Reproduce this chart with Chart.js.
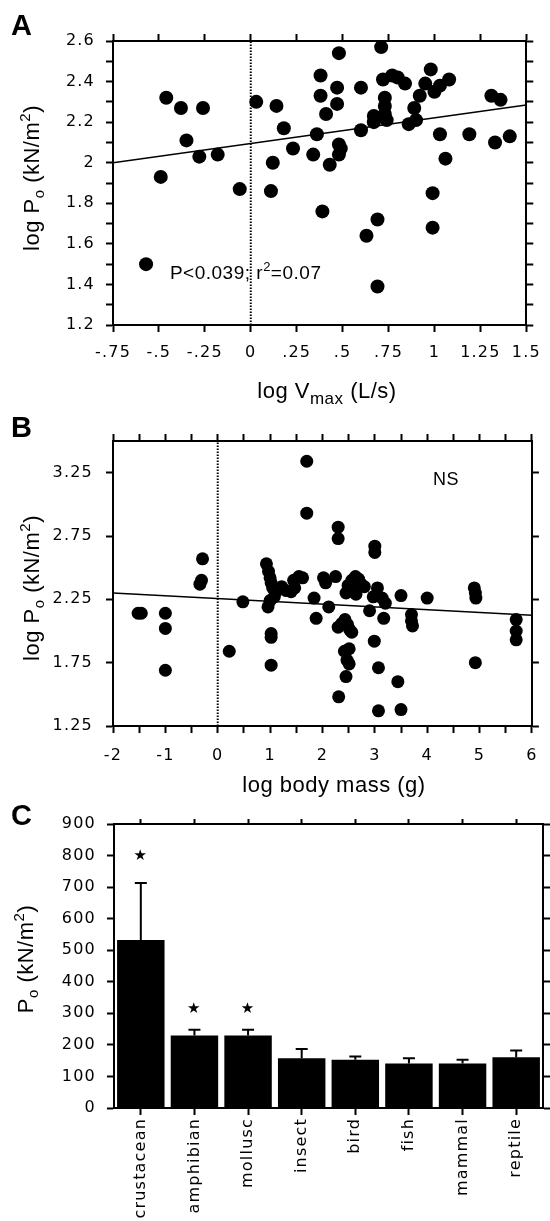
<!DOCTYPE html>
<html>
<head>
<meta charset="utf-8">
<title>log Po vs Vmax, body mass and taxon</title>
<script src="https://cdn.jsdelivr.net/npm/chart.js@4.4.1/dist/chart.umd.min.js"></script>
<style>
  body { margin: 0; background: #fff; }
  #page { position: relative; width: 550px; height: 1221px; overflow: hidden; }
  canvas { position: absolute; left: 0; }
</style>
</head>
<body>
<div id="page">
  <canvas id="chartA" width="550" height="420" style="top:0px"></canvas>
  <canvas id="chartB" width="550" height="420" style="top:400px"></canvas>
  <canvas id="chartC" width="550" height="431" style="top:790px"></canvas>
</div>
<script>
// ---- panel A : log Po against log Vmax
const aVmax = [-0.57,-0.49,-0.46,-0.38,-0.35,-0.28,-0.26,-0.18,-0.06,
  0.03,0.11,0.12,0.14,0.18,0.23,0.34,0.36,0.38,0.38,
  0.39,0.41,0.43,0.47,0.47,0.48,0.48,0.49,0.48,0.60,
  0.60,0.63,0.67,0.67,0.69,0.69,0.71,0.72,0.73,0.73,
  0.73,0.74,0.77,0.80,0.84,0.86,0.89,0.90,0.92,0.95,
  0.98,1.00,0.99,0.99,1.03,1.03,1.06,1.08,1.19,1.31,
  1.36,1.33,1.41];
const aLogPo = [1.50,1.93,2.32,2.27,2.11,2.03,2.27,2.04,1.87,
  2.30,1.86,2.00,2.28,2.17,2.07,2.04,2.14,2.43,2.33,
  1.76,2.24,1.99,2.37,2.29,2.54,2.09,2.07,2.04,2.37,
  2.16,1.64,2.23,2.20,1.72,1.39,2.57,2.41,2.32,2.28,
  2.24,2.21,2.43,2.42,2.39,2.19,2.27,2.21,2.33,2.39,
  2.46,2.35,1.85,1.68,2.38,2.14,2.02,2.41,2.14,2.33,
  2.31,2.10,2.13];
const aFitX = [-0.75, 1.5];
const aFitY = [2.00, 2.285];
const aXTicks = [-0.75,-0.5,-0.25,0,0.25,0.5,0.75,1,1.25,1.5];
const aXLabels = ['-.75','-.5','-.25','0','.25','.5','.75','1','1.25','1.5'];
const aYTicks = [1.2,1.3,1.4,1.5,1.6,1.7,1.8,1.9,2.0,2.1,2.2,2.3,2.4,2.5,2.6];
const aYLabels = ['1.2','','1.4','','1.6','','1.8','','2','','2.2','','2.4','','2.6'];

// ---- panel B : log Po against log body mass
const bMass = [-1.52,-1.46,-1.00,-1.00,-1.00,-0.34,-0.31,-0.29,0.22,0.48,
  0.93,0.97,1.00,1.02,1.05,1.10,0.96,1.00,1.08,1.15,
  1.22,1.30,1.40,1.45,1.55,1.62,1.47,1.02,1.02,1.02,
  1.70,1.70,1.84,1.88,2.02,2.06,2.12,2.25,2.30,2.30,
  2.30,2.37,2.43,2.48,2.52,2.56,2.42,2.51,2.47,2.51,
  2.45,2.31,2.45,2.49,2.56,2.63,2.69,2.74,2.58,2.80,
  2.64,2.90,2.97,3.00,3.00,3.05,3.14,3.20,3.17,2.99,
  3.07,3.07,3.44,3.50,3.50,3.70,3.70,3.72,4.00,4.90,
  4.92,4.93,4.92,5.70,5.70,5.70];
const bLogPo = [2.14,2.14,2.14,2.02,1.69,2.37,2.40,2.57,1.84,2.23,
  2.53,2.47,2.42,2.38,2.34,2.30,2.19,2.24,2.27,2.33,
  2.35,2.32,2.31,2.40,2.43,2.42,2.34,1.98,1.95,1.73,
  3.34,2.93,2.26,2.10,2.42,2.38,2.19,2.43,2.82,2.73,
  2.03,2.06,2.09,2.05,2.01,1.99,1.84,1.86,1.77,1.74,
  1.64,1.48,2.30,2.36,2.40,2.43,2.41,2.37,2.33,2.35,
  2.29,2.16,2.27,2.62,2.67,2.34,2.26,2.22,2.10,1.92,
  1.71,1.37,1.60,1.38,2.28,2.13,2.08,2.04,2.26,2.34,
  2.30,2.26,1.75,2.09,2.00,1.93];
const bFitX = [-2, 6];
const bFitY = [2.30, 2.125];
const bXTicks = [-2,-1.5,-1,-0.5,0,0.5,1,1.5,2,2.5,3,3.5,4,4.5,5,5.5,6];
const bXLabels = ['-2','','-1','','0','','1','','2','','3','','4','','5','','6'];
const bYTicks = [1.25,1.75,2.25,2.75,3.25];
const bYLabels = ['1.25','1.75','2.25','2.75','3.25'];

// ---- panel C : Po by taxon (mean + error)
const cTaxa = ['crustacean','amphibian','mollusc','insect','bird','fish','mammal','reptile'];
const cPo = [532, 230, 230, 158, 153, 141, 141, 161];
const cErr = [181, 18, 18, 29, 10, 17, 12, 21];
const cStarAt = [798, 313, 313, null, null, null, null, null];
const cYTicks = [0,100,200,300,400,500,600,700,800,900];
const cYLabels = ['0','100','200','300','400','500','600','700','800','900'];

const TICK_FONT = { family: 'DejaVu Sans', size: 16 };
const TITLE = '22px "Liberation Sans", Arial, sans-serif';
const SMALL = '15px "Liberation Sans", Arial, sans-serif';

function linAxis(position, min, max, vals, labels, size, pad) {
  return {
    type: 'linear', position: position, min: min, max: max,
    afterBuildTicks: function(s) { s.ticks = vals.map(function(v) { return { value: v }; }); },
    afterFit: function(s) { if (s.isHorizontal()) s.height = size; else s.width = size; },
    border: { display: true, color: '#000', width: 2 },
    grid: { drawOnChartArea: false, drawTicks: true, tickLength: 7, tickWidth: 2, tickColor: '#000', color: '#000' },
    ticks: labels ? { autoSkip: false, maxRotation: 0, padding: pad, color: '#000', font: TICK_FONT,
                      callback: function(v, i) { return labels[i]; } }
                  : { display: false }
  };
}

// text with sub/superscripts, centred (or left aligned) on x,y
function drawRich(ctx, parts, x, y, angle, align) {
  ctx.save();
  ctx.translate(x, y);
  ctx.rotate(angle || 0);
  ctx.fillStyle = '#000';
  ctx.textAlign = 'left';
  ctx.textBaseline = 'alphabetic';
  ctx.letterSpacing = '0.5px';
  let total = 0;
  parts.forEach(function(p) { ctx.font = p.f; p.w = ctx.measureText(p.t).width; total += p.w; });
  let cx = align === 'left' ? 0 : -total / 2;
  parts.forEach(function(p) { ctx.font = p.f; ctx.fillText(p.t, cx, p.dy || 0); cx += p.w; });
  ctx.restore();
}

function panelLetter(ctx, letter, y) {
  ctx.save();
  ctx.fillStyle = '#000';
  ctx.font = 'bold 29px "Liberation Sans", Arial, sans-serif';
  ctx.textBaseline = 'alphabetic';
  ctx.fillText(letter, 11, y);
  ctx.restore();
}

const poTitle = [
  { t: 'log P', f: TITLE }, { t: 'o', f: SMALL, dy: 5 },
  { t: ' (kN/m', f: TITLE }, { t: '2', f: SMALL, dy: -9 }, { t: ')', f: TITLE }
];

const spacing = { id: 'spacing', beforeDraw: function(chart) { chart.ctx.letterSpacing = '1.2px'; } };

const common = {
  responsive: false, animation: false, events: [],
  layout: { padding: 0, autoPadding: false },
  plugins: { legend: { display: false }, tooltip: { enabled: false } }
};

function pts(xs, ys) { return xs.map(function(x, i) { return { x: x, y: ys[i] }; }); }

// ---------- A
new Chart(document.getElementById('chartA'), {
  type: 'scatter',
  data: { datasets: [
    { data: pts(aVmax, aLogPo), backgroundColor: '#000', borderWidth: 0, pointRadius: 7 },
    { type: 'line', data: pts(aFitX, aFitY), borderColor: '#000', borderWidth: 1.5, pointRadius: 0 },
    { type: 'line', data: pts([0, 0], [1.2, 2.6]), borderColor: '#000', borderWidth: 2, borderDash: [1.5, 1.5], pointRadius: 0 }
  ]},
  options: Object.assign({}, common, {
    scales: {
      x: linAxis('bottom', -0.75, 1.5, aXTicks, aXLabels, 95, 11),
      x2: linAxis('top', -0.75, 1.5, aXTicks, null, 41, 0),
      y: linAxis('left', 1.2, 2.6, aYTicks, aYLabels, 113, 11),
      y2: linAxis('right', 1.2, 2.6, aYTicks, null, 15, 0)
    }
  }),
  plugins: [spacing, { id: 'textA', afterDraw: function(chart) {
    const ctx = chart.ctx, sx = chart.scales.x, sy = chart.scales.y;
    panelLetter(ctx, 'A', 35);
    drawRich(ctx, [{ t: 'log V', f: TITLE }, { t: 'max', f: '17px "Liberation Sans", Arial', dy: 6 }, { t: ' (L/s)', f: TITLE }], 327, 398);
    drawRich(ctx, poTitle, 39, 178, -Math.PI / 2);
    drawRich(ctx, [{ t: 'P<0.039; r', f: '19px "Liberation Sans", Arial' }, { t: '2', f: '13px "Liberation Sans", Arial', dy: -8 },
                   { t: '=0.07', f: '19px "Liberation Sans", Arial' }],
             sx.getPixelForValue(-0.44), sy.getPixelForValue(1.46) + 7, 0, 'left');
  }}]
});

// ---------- B
new Chart(document.getElementById('chartB'), {
  type: 'scatter',
  data: { datasets: [
    { data: pts(bMass, bLogPo), backgroundColor: '#000', borderWidth: 0, pointRadius: 6.5 },
    { type: 'line', data: pts(bFitX, bFitY), borderColor: '#000', borderWidth: 1.5, pointRadius: 0 },
    { type: 'line', data: pts([0, 0], [1.25, 3.5]), borderColor: '#000', borderWidth: 2, borderDash: [1.5, 1.5], pointRadius: 0 }
  ]},
  options: Object.assign({}, common, {
    scales: {
      x: linAxis('bottom', -2, 6, bXTicks, bXLabels, 94, 13),
      x2: linAxis('top', -2, 6, bXTicks, null, 41, 0),
      y: linAxis('left', 1.25, 3.5, bYTicks, bYLabels, 113, 13),
      y2: linAxis('right', 1.25, 3.5, bYTicks, null, 7, 0)
    }
  }),
  plugins: [spacing, { id: 'textB', afterDraw: function(chart) {
    const ctx = chart.ctx, sx = chart.scales.x, sy = chart.scales.y;
    panelLetter(ctx, 'B', 37);
    drawRich(ctx, [{ t: 'log body mass (g)', f: TITLE }], 334, 392);
    drawRich(ctx, poTitle, 39, 188, -Math.PI / 2);
    drawRich(ctx, [{ t: 'NS', f: '18px "Liberation Sans", Arial' }], sx.getPixelForValue(4.36), sy.getPixelForValue(3.21) + 7);
  }}]
});

// ---------- C
const cAxis = function(position, size, pad, show) {
  return {
    type: 'category', position: position, offset: true, labels: cTaxa,
    afterFit: function(s) { s.height = size; },
    border: { display: true, color: '#000', width: 2 },
    grid: { offset: false, drawOnChartArea: false, drawTicks: true, tickLength: show ? 7 : 5, tickWidth: 2, tickColor: '#000', color: '#000' },
    ticks: show ? { autoSkip: false, minRotation: 90, maxRotation: 90, padding: pad, color: '#000', font: TICK_FONT } : { display: false }
  };
};

new Chart(document.getElementById('chartC'), {
  type: 'bar',
  data: { labels: cTaxa, datasets: [
    { data: cPo, backgroundColor: '#000', borderWidth: 0, barPercentage: 0.885, categoryPercentage: 1.0 }
  ]},
  options: Object.assign({}, common, {
    scales: {
      x: cAxis('bottom', 113, 3, true),
      x2: cAxis('top', 34, 0, false),
      y: linAxis('left', 0, 900, cYTicks, cYLabels, 114, 11),
      y2: linAxis('right', 0, 900, cYTicks, null, 7, 0)
    }
  }),
  plugins: [spacing, { id: 'errorsC', afterDatasetsDraw: function(chart) {
    const ctx = chart.ctx, sy = chart.scales.y, bars = chart.getDatasetMeta(0).data;
    ctx.save();
    ctx.strokeStyle = '#000';
    ctx.fillStyle = '#000';
    ctx.lineWidth = 2;
    bars.forEach(function(bar, i) {
      const y0 = sy.getPixelForValue(cPo[i]);
      const y1 = sy.getPixelForValue(cPo[i] + cErr[i]);
      ctx.beginPath();
      ctx.moveTo(bar.x, y0); ctx.lineTo(bar.x, y1);
      ctx.moveTo(bar.x - 6, y1); ctx.lineTo(bar.x + 6, y1);
      ctx.stroke();
      if (cStarAt[i] !== null) {
        ctx.font = '15px "DejaVu Sans"';
        ctx.textAlign = 'center';
        ctx.textBaseline = 'middle';
        ctx.fillText('\u2605', bar.x, sy.getPixelForValue(cStarAt[i]));
      }
    });
    ctx.restore();
  }, afterDraw: function(chart) {
    const ctx = chart.ctx;
    panelLetter(ctx, 'C', 35);
    drawRich(ctx, [{ t: 'P', f: TITLE }, { t: 'o', f: SMALL, dy: 5 }, { t: ' (kN/m', f: TITLE }, { t: '2', f: SMALL, dy: -9 }, { t: ')', f: TITLE }],
             33, 169, -Math.PI / 2);
  }}]
});
</script>
</body>
</html>
